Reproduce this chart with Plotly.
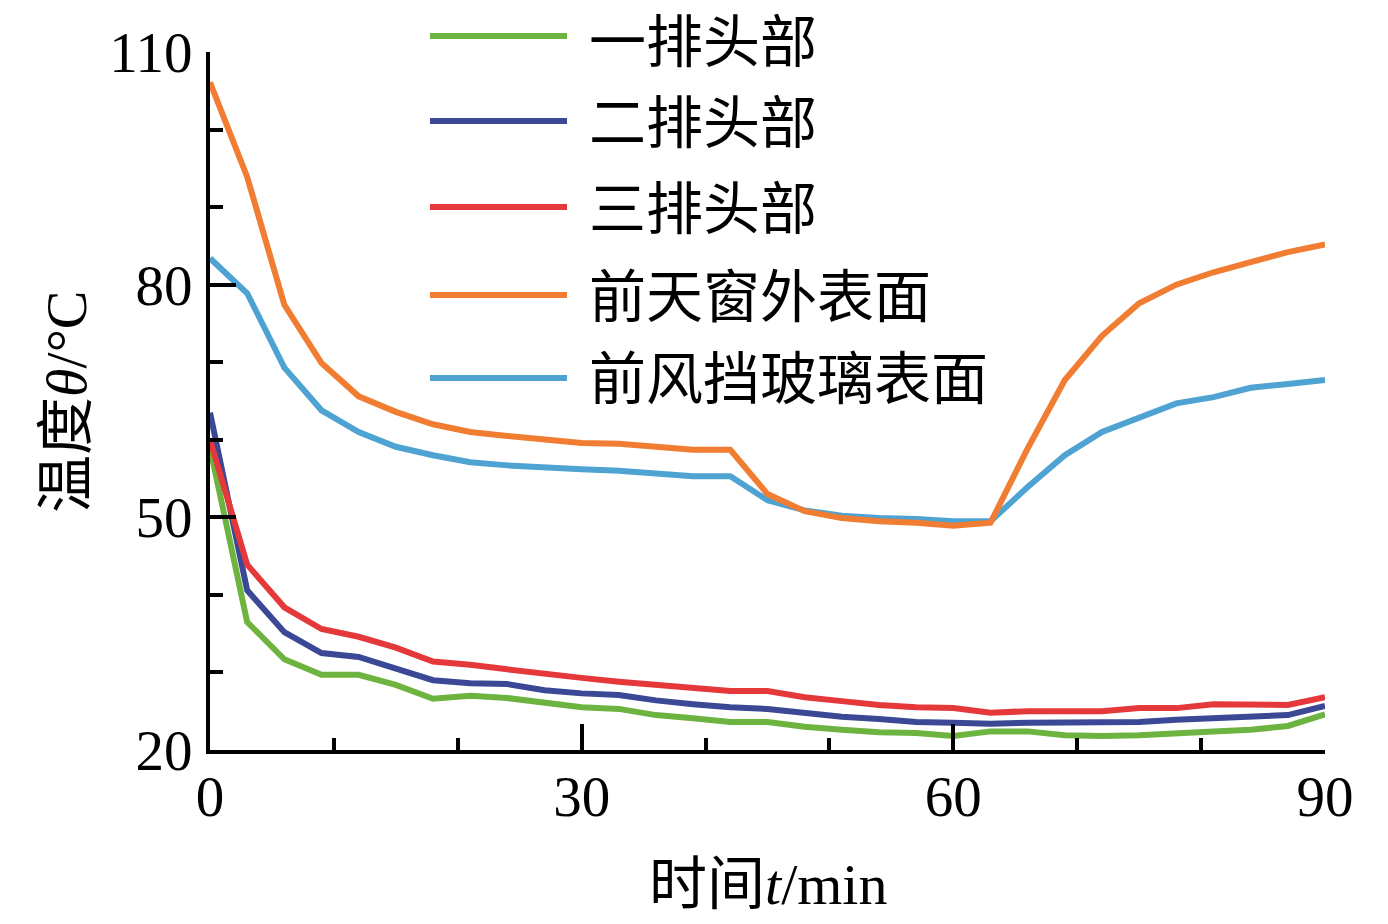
import plotly.graph_objects as go

# ---------------- data ----------------
time_min = [0, 3, 6, 9, 12, 15, 18, 21, 24, 27, 30, 33, 36, 39, 42, 45,
            48, 51, 54, 57, 60, 63, 66, 69, 72, 75, 78, 81, 84, 87, 90]

row1_head = [59.0, 36.5, 31.7, 29.7, 29.7, 28.4, 26.6, 27.0, 26.7, 26.1, 25.5,
             25.3, 24.5, 24.1, 23.6, 23.6, 23.0, 22.6, 22.3, 22.2, 21.8,
             22.4, 22.4, 21.9, 21.8, 21.9, 22.2, 22.4, 22.6, 23.1, 24.6]
row2_head = [63.5, 40.6, 35.2, 32.5, 32.0, 30.4, 29.0, 28.6, 28.5, 27.7, 27.3,
             27.1, 26.4, 25.9, 25.5, 25.3, 24.8, 24.3, 24.0, 23.6, 23.5,
             23.4, 23.5, 23.5, 23.5, 23.6, 23.9, 24.1, 24.3, 24.5, 25.7]
row3_head = [60.0, 43.9, 38.4, 35.6, 34.6, 33.2, 31.4, 31.0, 30.4, 29.8, 29.3,
             28.8, 28.4, 28.0, 27.6, 27.6, 26.8, 26.3, 25.8, 25.5, 25.4,
             24.8, 25.0, 25.0, 25.0, 25.4, 25.4, 25.9, 25.8, 25.8, 26.8]
sunroof_outer = [106.1, 93.9, 77.4, 69.9, 65.6, 63.6, 62.0, 61.0, 60.5, 60.0, 59.6,
                 59.5, 59.1, 58.7, 58.7, 53.0, 50.8, 49.9, 49.5, 49.3, 48.9,
                 49.3, 58.9, 67.7, 73.4, 77.6, 80.0, 81.6, 82.9, 84.2, 85.2]
windshield = [83.4, 78.9, 69.3, 63.8, 61.0, 59.1, 58.0, 57.1, 56.7, 56.4, 56.2,
              56.0, 55.6, 55.3, 55.3, 52.2, 50.9, 50.2, 49.9, 49.8, 49.5,
              49.5, 53.9, 58.0, 61.0, 62.9, 64.7, 65.5, 66.7, 67.2, 67.7]

series_names = ["一排头部", "二排头部", "三排头部", "前天窗外表面", "前风挡玻璃表面"]
series_values = [row1_head, row2_head, row3_head, sunroof_outer, windshield]
series_colors = ["#6cb43f", "#3a4896", "#e5383b", "#f07d32", "#4fa3d2"]

x_ticks = [0, 30, 60, 90]
x_minor = [10, 20, 40, 50, 70, 80]
y_ticks = [20, 50, 80, 110]
y_minor = [30, 40, 60, 70, 90, 100]

FONT = "Liberation Serif, Noto Sans CJK SC"

W, H = 1388, 924
OFF = 8  # page body margin
# target plot area in window pixels
PX0, PX1, PY0, PY1 = 210, 1325, 52, 750
L = PX0 - OFF
T = PY0 - OFF
R = W - (PX1 - OFF)
B = H - (PY1 - OFF)
PW, PH = PX1 - PX0, PY1 - PY0


def px_x(px):
    return (px - PX0) / PW


def px_y(py):
    return (PY1 - py) / PH


fig = go.Figure()
draw_order = [4, 0, 1, 2, 3]
for i in draw_order:
    fig.add_trace(go.Scatter(
        x=time_min, y=series_values[i], mode="lines", name=series_names[i],
        line=dict(color=series_colors[i], width=6), showlegend=False))

# manual legend (long line samples like the reference)
legend_line_py = [36, 121, 207, 295, 378]
legend_text_py = [43, 123, 209, 297, 380]
shapes = []
annotations = []
for name, color, py, ty in zip(series_names, series_colors, legend_line_py, legend_text_py):
    shapes.append(dict(type="line", xref="paper", yref="paper",
                       x0=px_x(430), x1=px_x(567), y0=px_y(py), y1=px_y(py),
                       line=dict(color=color, width=6)))
    annotations.append(dict(xref="paper", yref="paper", x=px_x(588), y=px_y(ty),
                            xanchor="left", yanchor="middle", showarrow=False,
                            borderpad=0,
                            text=name, font=dict(family=FONT, size=57, color="black")))

annotations.append(dict(xref="paper", yref="paper", x=0.5, y=px_y(884),
                        xanchor="center", yanchor="middle", showarrow=False,
                        text="时间<i>t</i>/min",
                        font=dict(family=FONT, size=58, color="black")))
annotations.append(dict(xref="paper", yref="paper", x=px_x(66), y=px_y(402),
                        xanchor="center", yanchor="middle", showarrow=False,
                        textangle=-90, text="温度<i>θ</i>/°C",
                        font=dict(family=FONT, size=58, color="black")))

axis_common = dict(showgrid=False, zeroline=False, showline=True, linecolor="black",
                   linewidth=4, ticks="inside", tickcolor="black", tickwidth=4,
                   ticklen=26, tickfont=dict(family=FONT, size=57, color="black"))

fig.update_xaxes(range=[0, 90], tickmode="array", tickvals=x_ticks,
                 ticktext=[str(v) for v in x_ticks], ticklabelstandoff=-6,
                 minor=dict(tickmode="array", tickvals=x_minor, ticks="inside",
                            ticklen=12, tickwidth=4, tickcolor="black", showgrid=False),
                 **axis_common)
fig.update_yaxes(range=[20, 110], tickmode="array", tickvals=y_ticks,
                 ticktext=[str(v) for v in y_ticks], ticklabelstandoff=2,
                 minor=dict(tickmode="array", tickvals=y_minor, ticks="inside",
                            ticklen=13, tickwidth=4, tickcolor="black", showgrid=False),
                 **axis_common)

fig.update_layout(width=W, height=H, margin=dict(l=L, r=R, t=T, b=B),
                  paper_bgcolor="white", plot_bgcolor="white",
                  shapes=shapes, annotations=annotations, showlegend=False)

fig.write_html("out.html")
